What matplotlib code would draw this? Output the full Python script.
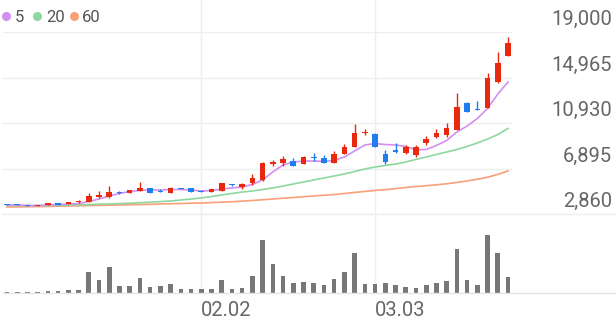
import numpy as np
import matplotlib
matplotlib.use('Agg')
import matplotlib.pyplot as plt
from matplotlib.lines import Line2D

plt.rcParams['font.family'] = ['Roboto', 'DejaVu Sans']

# daily candles (open, high, low, close)
opens = [3790, 3790, 3660, 3570, 3700, 3840, 3750, 3880, 3900, 4370,
         4370, 4810, 4750, 4900, 5170, 4810, 4750, 5170, 5140, 4940,
         4810, 4940, 5520, 5280, 5580, 5880, 7250, 7360, 7560, 7290,
         7940, 7850, 7410, 8180, 8830, 10000, 9950, 8180, 8540, 8300,
         8090, 9180, 9720, 9910, 10310, 12730, 12170, 12230, 14540, 16870]
highs = [3790, 3790, 3660, 3700, 3840, 3840, 3920, 4060, 4700, 4930,
         5340, 4930, 5030, 5700, 5210, 5120, 5250, 5210, 5170, 4960,
         5120, 5650, 5560, 5570, 6380, 7430, 7650, 8030, 7850, 7960,
         8240, 8120, 8450, 9070, 10840, 10370, 10000, 8540, 9180, 8980,
         8980, 9780, 10370, 10900, 13560, 12750, 12910, 15340, 17250, 18530]
lows = [3660, 3660, 3530, 3570, 3700, 3700, 3750, 3840, 3880, 4320,
        4280, 4610, 4720, 4860, 4720, 4770, 4680, 5080, 4810, 4770,
        4770, 4900, 5300, 5050, 5430, 5830, 7120, 7140, 7120, 7250,
        7590, 7380, 7380, 8140, 8800, 9870, 8800, 7290, 8240, 8150,
        7940, 8980, 9570, 9660, 10270, 11910, 12060, 12220, 14450, 16830]
closes = [3660, 3660, 3530, 3700, 3840, 3700, 3880, 4010, 4460, 4570,
          4780, 4720, 4990, 5170, 4750, 4770, 5170, 5080, 4840, 4800,
          5080, 5610, 5430, 5560, 6030, 7410, 7470, 7710, 7140, 7940,
          7800, 7410, 8150, 8780, 10020, 10130, 8830, 7500, 8400, 8780,
          8780, 9480, 10070, 10460, 12320, 11930, 12060, 14890, 16220, 18000]

ma5 = [3660, 3660, 3610, 3610, 3660, 3700, 3750, 3790, 3970, 4190,
       4460, 4680, 4860, 4950, 4990, 4990, 5030, 5030, 4990, 4900,
       4940, 5080, 5170, 5250, 5480, 5880, 6590, 7210, 7470, 7560,
       7560, 7520, 7610, 7920, 8450, 8980, 9110, 9020, 8980, 8850,
       8540, 8580, 8940, 9380, 10130, 10660, 11330, 12220, 13500, 14570]
ma20 = [3610, 3610, 3610, 3610, 3610, 3630, 3660, 3680, 3700, 3730,
        3750, 3780, 3820, 3860, 3910, 3960, 4010, 4100, 4190, 4280,
        4410, 4550, 4680, 4810, 4900, 5030, 5170, 5340, 5520, 5700,
        5880, 6050, 6230, 6410, 6630, 6850, 7030, 7160, 7290, 7470,
        7700, 7920, 8140, 8360, 8580, 8850, 9160, 9510, 9910, 10440]
ma60 = [3480, 3490, 3500, 3520, 3530, 3550, 3570, 3590, 3610, 3620,
        3640, 3660, 3680, 3700, 3720, 3750, 3770, 3790, 3820, 3840,
        3870, 3910, 3950, 4000, 4060, 4120, 4190, 4260, 4320, 4390,
        4460, 4520, 4590, 4680, 4770, 4860, 4950, 5020, 5110, 5210,
        5300, 5370, 5450, 5540, 5660, 5790, 5940, 6120, 6370, 6680]

# volume, thousand shares
volume = [10, 10, 10, 10, 17, 17, 27, 27, 207, 130,
          260, 70, 67, 150, 57, 73, 93, 37, 43, 43,
          37, 133, 43, 53, 167, 527, 293, 167, 100, 110,
          105, 80, 140, 213, 397, 87, 93, 100, 83, 57,
          50, 83, 97, 120, 440, 130, 77, 577, 397, 160]

price_ticks = [2860, 6895, 10930, 14965, 19000]
date_labels = {19: '02.02', 36: '03.03'}

UP, DOWN = '#e8290e', '#1e7ef0'
GRID = '#eeeeee'
W, H = 616, 321

fig = plt.figure(figsize=(W / 100, H / 100), dpi=100)


def px_axes(l, t, r, b):
    a = fig.add_axes([l / W, 1 - b / H, (r - l) / W, (b - t) / H])
    a.axis('off')
    return a


x = np.arange(len(closes))
o, h, l, c = map(np.array, (opens, highs, lows, closes))
col = np.where(c >= o, UP, DOWN)

ax = px_axes(3, 32, 512, 214)
ax.set_xlim(-0.39, 49.39)
ax.set_ylim(2860, 19000)

for v in price_ticks:
    ax.axhline(v, color=GRID, lw=1, zorder=0)
    ax.annotate(f'{v:,}', xy=(612 / W, v), xycoords=('figure fraction', 'data'),
                xytext=(0, 5), textcoords='offset points',
                ha='right', va='baseline', fontsize=14.5, color='#666666')
# bottom line runs to the right edge
ax.plot([0, 613 / 509], [0, 0], transform=ax.transAxes, clip_on=False,
        color=GRID, lw=1, zorder=0)
for i in date_labels:
    ax.axvline(i, ymin=-0.434, ymax=1.176, clip_on=False, color=GRID, lw=1, zorder=0)

ax.plot(x, ma60, color='#f7a07a', lw=1.2, zorder=2)
ax.plot(x, ma20, color='#8ed8a0', lw=1.2, zorder=2)
ax.plot(x, ma5, color='#d38ef2', lw=1.2, zorder=2)

ax.vlines(x, l, h, colors=col, lw=1, zorder=3)
body = np.maximum(np.abs(c - o), 110)
ax.bar(x, body, bottom=np.minimum(o, c), width=0.55, color=col, zorder=4)

vax = px_axes(3, 233, 512, 293)
vax.set_xlim(-0.39, 49.39)
vax.set_ylim(0, 600)
vax.bar(x, volume, width=0.45, color='#777777')
vax.plot([0, 613 / 509], [0, 0], transform=vax.transAxes, clip_on=False,
         color='#e6e6e6', lw=1)
for i, s in date_labels.items():
    vax.annotate(s, xy=(i, 1 - 316.5 / H), xycoords=('data', 'figure fraction'),
                 ha='left', va='baseline', fontsize=14.5, color='#666666')

# moving average legend
for cx, tx, s, cc in [(6, 15, '5', '#d38ef2'), (37, 46, '20', '#8ed8a0'),
                      (74, 82, '60', '#f7a07a')]:
    fig.add_artist(Line2D([cx / W], [1 - 15.5 / H], marker='o', ms=5.5, color=cc,
                          transform=fig.transFigure))
    fig.text(tx / W, 1 - 21.5 / H, s, ha='left', va='baseline', fontsize=12,
             color='#555555')

fig.savefig('out.png', dpi=100)
